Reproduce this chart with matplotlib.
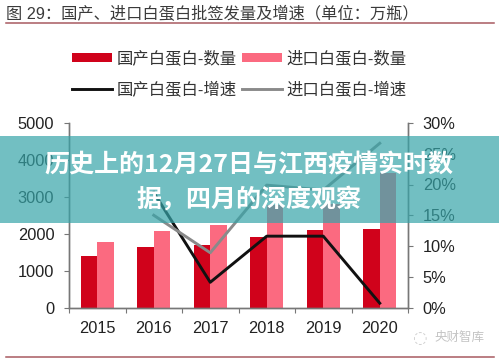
import numpy as np
import matplotlib
matplotlib.use('Agg')
import matplotlib.pyplot as plt
from matplotlib.patches import Rectangle

plt.rcParams['font.family'] = ['Liberation Sans', 'Noto Sans CJK SC', 'DejaVu Sans']

# values
years = ['2015', '2016', '2017', '2018', '2019', '2020']
domestic_qty = [1395, 1630, 1700, 1900, 2100, 2130]
imported_qty = [1785, 2070, 2240, 2780, 2800, 3640]
domestic_growth = [np.nan, 18.7, 4.1, 11.6, 11.6, 0.7]
imported_growth = [np.nan, 15.0, 8.9, 19.9, 19.1, 26.7]
left_ticks = [0, 1000, 2000, 3000, 4000, 5000]
right_ticks = [0, 5, 10, 15, 20, 25, 30]

W, H = 499, 360
fig = plt.figure(figsize=(W / 100, H / 100), dpi=100)
ax = fig.add_axes([69 / W, 1 - 307.5 / H, 339 / W, 184.5 / H])
ax2 = ax.twinx()

x = np.arange(len(years))
bars1 = ax.bar(x - 0.145, domestic_qty, 0.29, color='#d0021b')
bars2 = ax.bar(x + 0.145, imported_qty, 0.29, color='#fb6a80')
line1, = ax2.plot(x, domestic_growth, color='#111111', lw=2.1)
line2, = ax2.plot(x, imported_growth, color='#8a8a8a', lw=2.1)

ax.set_xlim(-0.5, 5.5)
ax.set_ylim(0, 5000)
ax2.set_ylim(0, 30)
ax.set_yticks(left_ticks)
ax2.set_yticks(right_ticks, labels=[f'{t}%' for t in right_ticks])
ax.set_xticks(np.arange(-0.5, 6), labels=[])
ax.set_xticks(x, labels=years, minor=True)

for a in (ax, ax2):
    a.spines['top'].set_visible(False)
    for s in a.spines.values():
        s.set_color('#777777')
        s.set_linewidth(1)
    a.tick_params(axis='y', length=3.6, color='#777777', pad=7, labelsize=11.8, labelcolor='#222222')
ax.tick_params(axis='x', which='major', length=3.6, color='#777777')
ax.tick_params(axis='x', which='minor', length=0, pad=9.5, labelsize=11.8, labelcolor='#222222')

# heading and rules
fig.text(6 / W, 1 - 13.5 / H, '图 29：国产、进口白蛋白批签发量及增速（单位：万瓶）',
         fontsize=11.7, color='#3a3a3a', va='center')
for y in (23, 357):
    fig.add_artist(plt.Line2D([6 / W, 494 / W], [1 - y / H] * 2, color='#a85a60', lw=1.1))

fig.legend([bars1, line1, bars2, line2],
           ['国产白蛋白-数量', '国产白蛋白-增速', '进口白蛋白-数量', '进口白蛋白-增速'],
           ncol=2, loc='center', bbox_to_anchor=(239.5 / W, 1 - 74 / H), frameon=False,
           fontsize=11.8, labelcolor='#333333', handlelength=2.44, handleheight=0.45,
           handletextpad=0.25, columnspacing=0.35, labelspacing=0.92)

# watermark
fig.text(434 / W, 1 - 338 / H, '央财智库', fontsize=9, color='#c4c4c4', va='center')
fig.text(419 / W, 1 - 338 / H, '◌', fontsize=12, color='#d0d0d0', va='center', ha='center',
         family=['DejaVu Sans'])

# teal band over the chart
fig.add_artist(Rectangle((0, 1 - 223 / H), 1, 87 / H, transform=fig.transFigure,
                         facecolor=(54 / 255, 164 / 255, 168 / 255), alpha=0.7,
                         edgecolor='none', zorder=5))
banner = dict(fontsize=18, color='white', fontweight='bold', ha='center', va='center', zorder=6,
              family=['Noto Sans CJK SC', 'DejaVu Sans'])
fig.text(249 / W, 1 - 165 / H, '历史上的12月27日与江西疫情实时数', **banner)
fig.text(249.5 / W, 1 - 199.5 / H, '据，四月的深度观察', **banner)

fig.savefig('out.png', dpi=100)
